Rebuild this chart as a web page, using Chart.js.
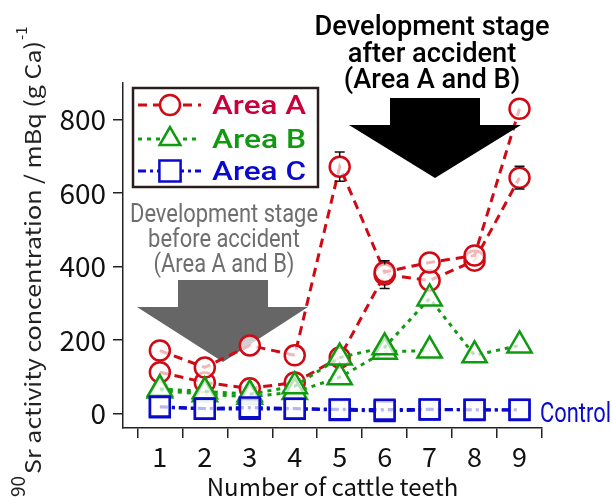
<!DOCTYPE html>
<html>
<head>
<meta charset="utf-8">
<script src="https://cdn.jsdelivr.net/npm/chart.js@4.4.1/dist/chart.umd.min.js"></script>
<style>
  html, body { margin: 0; padding: 0; background: #fff; }
</style>
</head>
<body>
<canvas id="teeth-chart" width="612" height="501"></canvas>
<script>
// number of cattle teeth (x categories)
const teeth = [1, 2, 3, 4, 5, 6, 7, 8, 9];

// 90Sr activity, mBq (g Ca)^-1
const areaA1 = [171, 125, 185, 158, 672, 385, 411, 430, 830];
const areaA2 = [112, 84, 68, 84, 152, 378, 362, 416, 642];
const areaA1Err = [0, 0, 0, 0, 40, 0, 0, 0, 0];
const areaA2Err = [0, 0, 0, 0, 0, 38, 0, 0, 31];

const areaB1 = [66, 60, 52, 74, 152, 180, 313, 158, 185];
const areaB2 = [62, 52, 45, 58, 98, 168, 171, null, null];

const areaC1 = [18, 13, 16, 13, 11, 10, 11, 10, 10];
const areaC2 = [16, 12, 12, 12, 9, 6, 10, 9, 9];

const yTickValues = [0, 200, 400, 600, 800];
const xTickValues = [0.5, 1, 1.5, 2, 2.5, 3, 3.5, 4, 4.5, 5, 5.5, 6, 6.5, 7, 7.5, 8, 8.5, 9, 9.5];

const RED = '#d00a14';
const GREEN = '#109a10';
const BLUE = '#0a0acc';
const FONT = "'Noto Sans CJK JP', 'Noto Sans', sans-serif";

function toPoints(values) {
    return teeth.map((t, i) => ({ x: t, y: values[i] }));
}

function lineSet(label, values, color, dash, style, radius, errors) {
    return {
        label: label,
        data: toPoints(values),
        borderColor: color,
        borderWidth: 3,
        borderDash: dash,
        pointStyle: style,
        pointRadius: radius,
        pointHoverRadius: radius,
        pointBorderWidth: 2.5,
        pointBorderColor: color,
        pointBackgroundColor: 'rgba(255,255,255,0.7)',
        spanGaps: false,
        tension: 0,
        fill: false,
        errors: errors || null
    };
}

// draws text squeezed/stretched so the first line gets the given width
function fitLines(ctx, lines, cx, baselines, width, font, color, align) {
    ctx.save();
    ctx.font = font;
    const s = width / ctx.measureText(lines[0]).width;
    ctx.fillStyle = color;
    ctx.textAlign = align || 'center';
    ctx.textBaseline = 'alphabetic';
    lines.forEach((txt, i) => {
        ctx.save();
        ctx.translate(cx, baselines[i]);
        ctx.scale(s, 1);
        ctx.fillText(txt, 0, 0);
        ctx.restore();
    });
    ctx.restore();
}

function drawArrow(ctx, color, left, right, top, neck, baseL, baseR, tipX, tipY) {
    ctx.save();
    ctx.fillStyle = color;
    ctx.beginPath();
    ctx.moveTo(left, top);
    ctx.lineTo(right, top);
    ctx.lineTo(right, neck);
    ctx.lineTo(baseR, neck);
    ctx.lineTo(tipX, tipY);
    ctx.lineTo(baseL, neck);
    ctx.lineTo(left, neck);
    ctx.closePath();
    ctx.fill();
    ctx.restore();
}

const annotations = {
    id: 'annotations',
    beforeDatasetsDraw(chart) {
        const ctx = chart.ctx;
        // grey note and arrow (before accident)
        drawArrow(ctx, '#666666', 178, 268, 280, 307, 137, 308, 223, 362);
        fitLines(ctx, ['Development stage', 'before accident', '(Area A and B)'],
            224, [222, 247, 272], 188, "400 26px Roboto, sans-serif", '#6e6e6e');
    },
    afterDatasetsDraw(chart) {
        const ctx = chart.ctx;
        // error bars
        chart.data.datasets.forEach((ds, di) => {
            if (!ds.errors) return;
            const meta = chart.getDatasetMeta(di);
            const ys = chart.scales.y;
            meta.data.forEach((pt, i) => {
                const e = ds.errors[i];
                if (!e) return;
                const v = ds.data[i].y;
                const yTop = ys.getPixelForValue(v + e);
                const yBot = ys.getPixelForValue(v - e);
                const r = ds.pointRadius;
                ctx.save();
                ctx.strokeStyle = '#111';
                ctx.lineWidth = 1.5;
                ctx.beginPath();
                ctx.moveTo(pt.x, yTop); ctx.lineTo(pt.x, pt.y - r);
                ctx.moveTo(pt.x, pt.y + r); ctx.lineTo(pt.x, yBot);
                ctx.moveTo(pt.x - 5, yTop); ctx.lineTo(pt.x + 5, yTop);
                ctx.moveTo(pt.x - 5, yBot); ctx.lineTo(pt.x + 5, yBot);
                ctx.stroke();
                ctx.restore();
            });
        });
    },
    afterDraw(chart) {
        const ctx = chart.ctx;
        // black note and arrow (after accident)
        drawArrow(ctx, '#000000', 390, 480, 98, 125, 349, 521, 435, 178);
        fitLines(ctx, ['Development stage', 'after accident', '(Area A and B)'],
            432, [35, 62, 88], 235, "500 27px Roboto, sans-serif", '#000');

        // "Control" label
        fitLines(ctx, ['Control'], 540, [422], 71, "400 28px Roboto, sans-serif", BLUE, 'left');

        // legend
        ctx.save();
        ctx.fillStyle = '#fff';
        ctx.fillRect(133, 88, 185, 99);
        ctx.strokeStyle = '#2b1d1d';
        ctx.lineWidth = 2.5;
        ctx.strokeRect(133, 88, 185, 99);
        const items = [
            { text: 'Area A', color: RED, textColor: '#c8003c', dash: [9, 6], style: 'circle', r: 10, y: 105 },
            { text: 'Area B', color: GREEN, textColor: '#119911', dash: [4, 5], style: 'triangle', r: 12, y: 139 },
            { text: 'Area C', color: BLUE, textColor: BLUE, dash: [8, 4, 3, 4], style: 'rect', r: 15, y: 171 }
        ];
        items.forEach(it => {
            ctx.save();
            ctx.strokeStyle = it.color;
            ctx.lineWidth = 3;
            ctx.setLineDash(it.dash);
            ctx.beginPath();
            ctx.moveTo(138, it.y);
            ctx.lineTo(201, it.y);
            ctx.stroke();
            ctx.restore();
            ctx.save();
            ctx.fillStyle = '#fff';
            ctx.strokeStyle = it.color;
            ctx.lineWidth = 2.5;
            Chart.helpers.drawPoint(ctx, { pointStyle: it.style, radius: it.r, borderWidth: 2.5, rotation: 0 }, 170, it.y);
            ctx.restore();
            fitLines(ctx, [it.text], 212, [it.y + 9], 94, "500 25px Roboto, sans-serif", it.textColor, 'left');
        });
        ctx.restore();

        // y axis title with superscripts
        ctx.save();
        ctx.translate(41, 497);
        ctx.rotate(-Math.PI / 2);
        ctx.fillStyle = '#222';
        ctx.textBaseline = 'alphabetic';
        ctx.font = "19px " + FONT;
        ctx.fillText('90', 0, -16);
        const w90 = ctx.measureText('90').width;
        ctx.font = "22px " + FONT;
        const main = 'Sr activity concentration / mBq (g Ca)';
        const mw = ctx.measureText(main).width;
        const sx = 433 / mw;
        ctx.save();
        ctx.translate(w90 + 2, 0);
        ctx.scale(sx, 1);
        ctx.fillText(main, 0, 0);
        ctx.restore();
        ctx.font = "15px " + FONT;
        ctx.fillText('-1', w90 + 2 + 433 + 1, -14);
        ctx.restore();
    }
};

const ctx = document.getElementById('teeth-chart');

new Chart(ctx, {
    type: 'line',
    data: {
        datasets: [
            lineSet('Area C', areaC1, BLUE, [8, 4, 3, 4], 'rect', 14),
            lineSet('Area C', areaC2, BLUE, [8, 4, 3, 4], 'rect', 14),
            lineSet('Area B', areaB1, GREEN, [4, 5], 'triangle', 14),
            lineSet('Area B', areaB2, GREEN, [4, 5], 'triangle', 14),
            lineSet('Area A', areaA1, RED, [9, 6], 'circle', 10, areaA1Err),
            lineSet('Area A', areaA2, RED, [9, 6], 'circle', 10, areaA2Err)
        ]
    },
    options: {
        responsive: false,
        animation: false,
        events: [],
        layout: { padding: { top: 83, right: 70, left: 0, bottom: 0 } },
        plugins: {
            legend: { display: false },
            tooltip: { enabled: false }
        },
        scales: {
            x: {
                type: 'linear',
                min: 0.18,
                max: 9.5,
                afterBuildTicks: s => { s.ticks = xTickValues.map(v => ({ value: v })); },
                afterFit: s => { s.height = 73; },
                grid: {
                    drawOnChartArea: false,
                    drawTicks: true,
                    tickLength: 10,
                    lineWidth: 1.5,
                    color: c => (c.tick && c.tick.value % 1 !== 0) ? '#222' : 'rgba(0,0,0,0)'
                },
                border: { display: true, color: '#222', width: 1.5 },
                ticks: {
                    autoSkip: false,
                    maxRotation: 0,
                    padding: 3,
                    color: '#111',
                    font: { family: FONT, size: 27 },
                    callback: v => Number.isInteger(v) ? String(v) : ''
                },
                title: {
                    display: true,
                    text: 'Number of cattle teeth',
                    color: '#111',
                    font: { family: FONT, size: 24 },
                    padding: { top: 0, bottom: 0 }
                }
            },
            y: {
                min: -40,
                max: 900,
                afterBuildTicks: s => { s.ticks = yTickValues.map(v => ({ value: v })); },
                afterFit: s => { s.width = 123; },
                grid: {
                    drawOnChartArea: false,
                    drawTicks: true,
                    tickLength: 10,
                    lineWidth: 1.5,
                    color: '#222'
                },
                border: { display: true, color: '#222', width: 1.5 },
                ticks: {
                    padding: 7,
                    color: '#111',
                    font: { family: FONT, size: 28 }
                }
            }
        }
    },
    plugins: [annotations]
});
</script>
</body>
</html>
